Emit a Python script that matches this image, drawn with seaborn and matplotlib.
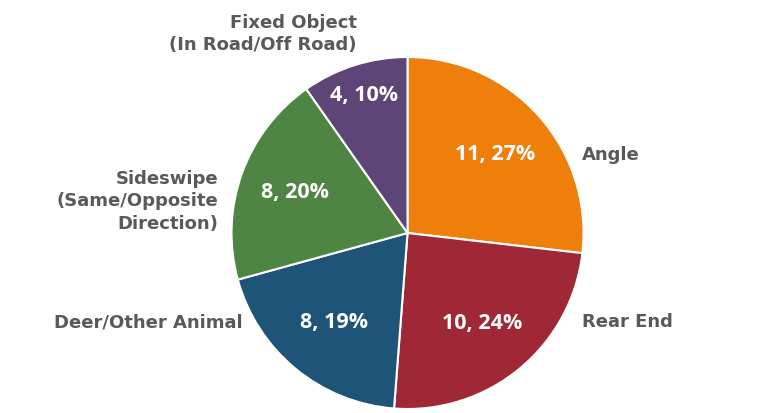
import numpy as np
import matplotlib
matplotlib.use("Agg")
import matplotlib.pyplot as plt
import seaborn as sns

# Crash types and counts
categories = ["Angle", "Rear End", "Deer/Other Animal",
              "Sideswipe\n(Same/Opposite\nDirection)",
              "Fixed Object\n(In Road/Off Road)"]
counts = [11, 10, 8, 8, 4]
pct_labels = ["27%", "24%", "19%", "20%", "10%"]
colors = ["#EE7F0B", "#A02735", "#1D5478", "#4E8542", "#5E4577"]

sns.set_theme(style="white")
plt.rcParams["font.family"] = ["DejaVu Sans"]

fig = plt.figure(figsize=(7.59, 4.13), dpi=100)
ax = fig.add_axes([0.305, 0.0097, 0.4638, 0.8523])

wedges, _ = ax.pie(counts, colors=colors, startangle=90, counterclock=False,
                   wedgeprops=dict(edgecolor="white", linewidth=1.5))
ax.set_xlim(-1, 1)
ax.set_ylim(-1, 1)
ax.set_aspect("equal")
ax.axis("off")

# value labels inside each slice
inner_dist = [0.67, 0.67, 0.66, 0.68, 0.82]
for w, n, p, d in zip(wedges, counts, pct_labels, inner_dist):
    mid = np.deg2rad((w.theta1 + w.theta2) / 2)
    ax.text(d * np.cos(mid), d * np.sin(mid), f"{n}, {p}",
            ha="center", va="center", color="white",
            fontsize=15.5, fontweight="bold", family="Open Sans")

# category labels outside the pie
label_pos = [(0.991, 0.443, "left"), (0.991, -0.506, "left"),
             (-0.935, -0.506, "right"), (-1.077, 0.18, "right"),
             (-0.287, 1.13, "right")]
for name, (x, y, ha) in zip(categories, label_pos):
    ax.text(x, y, name, ha=ha, va="center", multialignment=ha,
            color="#595959", fontsize=13, fontweight="bold",
            linespacing=1.3)

fig.savefig("out.png", dpi=100)
